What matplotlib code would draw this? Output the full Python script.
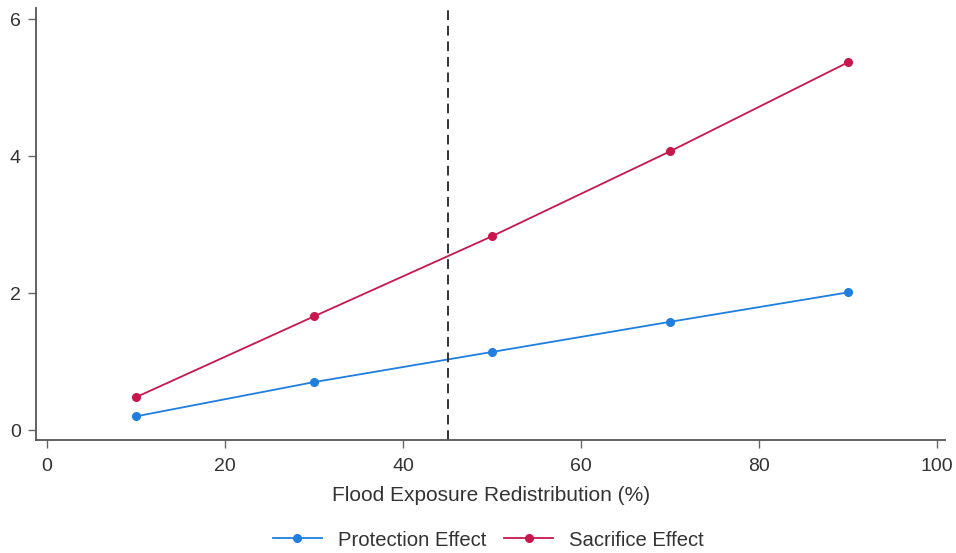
import matplotlib
matplotlib.use("Agg")
import matplotlib.pyplot as plt

plt.rcParams['font.family'] = ['Liberation Sans', 'DejaVu Sans']

x_vals = [10, 30, 50, 70, 90]
protection = [0.20, 0.70, 1.14, 1.58, 2.01]
sacrifice = [0.48, 1.66, 2.83, 4.07, 5.37]
threshold = 45
x_ticks = [0, 20, 40, 60, 80, 100]
y_ticks = [0, 2, 4, 6]

blue = '#1f7ee0'
red = '#c8174c'

fig = plt.figure(figsize=(9.56, 5.53), dpi=100)
ax = fig.add_axes([0.0377, 0.2043, 0.951, 0.781])

ax.plot(x_vals, protection, color=blue, marker='o', markersize=5.5, lw=1.3, label='Protection Effect')
ax.plot(x_vals, sacrifice, color=red, marker='o', markersize=5.5, lw=1.3, label='Sacrifice Effect')
ax.axvline(threshold, color='#333333', lw=1.4, ls=(0, (5, 3)))

ax.set_xlim(-1.24, 100.9)
ax.set_ylim(-0.146, 6.16)
ax.set_xticks(x_ticks)
ax.set_yticks(y_ticks)
for s in ['top', 'right']:
    ax.spines[s].set_visible(False)
for s in ['left', 'bottom']:
    ax.spines[s].set_color('#555555')
    ax.spines[s].set_linewidth(1.3)
ax.tick_params(axis='both', direction='out', length=6, width=1, color='#666666', labelsize=14, labelcolor='#333333')
ax.tick_params(axis='x', pad=7)
ax.tick_params(axis='y', pad=5)
ax.set_xlabel('Flood Exposure Redistribution (%)', fontsize=15, color='#333333', labelpad=8)

fig.legend(loc='center', bbox_to_anchor=(0.511, 1 - 540 / 553), ncol=2, frameon=False, fontsize=14.6,
           handlelength=2.4, columnspacing=0.9, handletextpad=0.8, labelcolor='#333333')

fig.savefig('out.png', dpi=100)
